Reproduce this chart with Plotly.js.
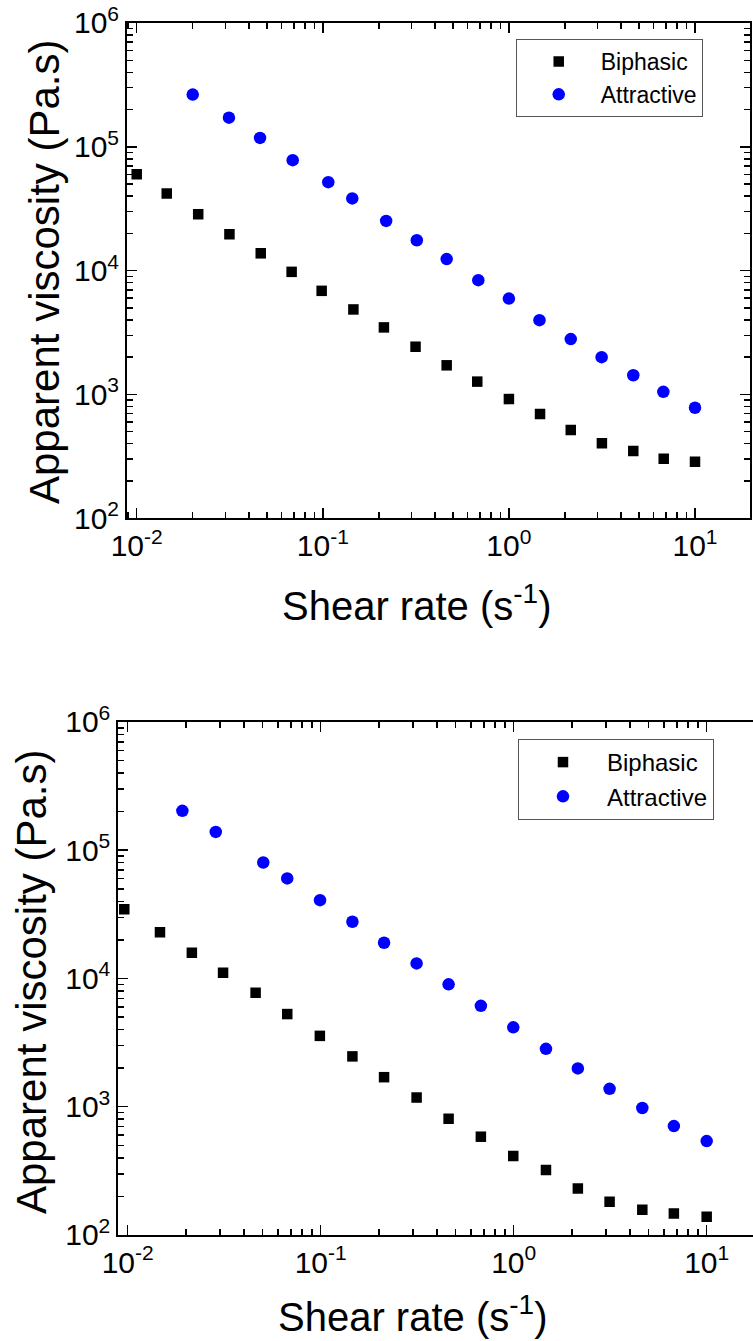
<!DOCTYPE html>
<html>
<head>
<meta charset="utf-8">
<script src="https://cdn.plot.ly/plotly-3.0.1.min.js"></script>
<style>
  html, body { margin: 0; padding: 0; background: #ffffff; }
  #chart { width: 753px; height: 1341px; }
</style>
</head>
<body>
<div id="chart"></div>
<script>
// ---- Data (shear rate in 1/s, viscosity in Pa.s) ----
// Top panel
const shearBiphasicTop = [0.0100, 0.0145, 0.0214, 0.0315, 0.0464, 0.0680, 0.0986, 0.146, 0.213, 0.315, 0.463, 0.676, 1.00, 1.47, 2.15, 3.16, 4.66, 6.79, 10.0];
const viscBiphasicTop  = [60000, 42000, 28600, 19700, 13800, 9780, 6870, 4860, 3480, 2430, 1720, 1270, 918, 695, 516, 403, 349, 303, 286];
const shearAttractiveTop = [0.0200, 0.0313, 0.0460, 0.0689, 0.107, 0.144, 0.219, 0.320, 0.463, 0.685, 1.00, 1.46, 2.15, 3.15, 4.66, 6.76, 10.0];
const viscAttractiveTop  = [264000, 172000, 118000, 78000, 51800, 38300, 25200, 17600, 12400, 8380, 5950, 3980, 2800, 2000, 1430, 1050, 781];
// Bottom panel
const shearBiphasicBottom = [0.0096, 0.0147, 0.0215, 0.0312, 0.0460, 0.0671, 0.0990, 0.146, 0.213, 0.314, 0.460, 0.676, 0.995, 1.47, 2.15, 3.14, 4.64, 6.76, 10.0];
const viscBiphasicBottom  = [34600, 22900, 15850, 11100, 7740, 5280, 3570, 2470, 1700, 1180, 806, 584, 413, 321, 230, 182, 157, 147, 139];
const shearAttractiveBottom = [0.0192, 0.0286, 0.0504, 0.0671, 0.0992, 0.146, 0.213, 0.314, 0.460, 0.676, 0.995, 1.47, 2.15, 3.14, 4.64, 6.76, 10.0];
const viscAttractiveBottom  = [203000, 139000, 80300, 60300, 40800, 27700, 19000, 13100, 9000, 6120, 4160, 2830, 1990, 1380, 977, 707, 540];

// Series names and tick labels
const seriesNames = ['Biphasic', 'Attractive'];
const xTickVals = [0.01, 0.1, 1, 10];
const xTickText = ['10<sup>-2</sup>', '10<sup>-1</sup>', '10<sup>0</sup>', '10<sup>1</sup>'];
const yTickVals = [1e2, 1e3, 1e4, 1e5, 1e6];
const yTickText = ['10<sup>2</sup>', '10<sup>3</sup>', '10<sup>4</sup>', '10<sup>5</sup>', '10<sup>6</sup>'];
const xTitle = 'Shear rate (s<sup>-1</sup>)';
const yTitle = 'Apparent viscosity (Pa.s)';

// minor tick positions (2..9 within each decade)
function minorTicks(lo, hi) {
  const out = [];
  for (let e = lo; e <= hi; e++) {
    for (let m = 2; m <= 9; m++) out.push(m * Math.pow(10, e));
  }
  return out;
}

const FONT = 'Liberation Sans, Arial, Helvetica, sans-serif';

function xAxis(domain, range, anchor) {
  return {
    type: 'log', domain: domain, range: range, anchor: anchor,
    showline: true, linecolor: '#000', linewidth: 2, mirror: 'ticks',
    ticks: 'inside', ticklen: 10, tickwidth: 1.5, tickcolor: '#000',
    tickmode: 'array', tickvals: xTickVals, ticktext: xTickText,
    minor: { tickmode: 'array', tickvals: minorTicks(-3, 1), ticks: 'inside', ticklen: 6, tickwidth: 1.5, tickcolor: '#000', showgrid: false },
    showgrid: false, zeroline: false,
    tickfont: { family: FONT, size: 30, color: '#000' }
  };
}
function yAxis(domain, anchor, mirror) {
  return {
    type: 'log', domain: domain, range: [2, 6], anchor: anchor,
    showline: true, linecolor: '#000', linewidth: 2, mirror: mirror,
    ticks: 'inside', ticklen: 10, tickwidth: 1.5, tickcolor: '#000',
    tickmode: 'array', tickvals: yTickVals, ticktext: yTickText,
    minor: { tickmode: 'array', tickvals: minorTicks(2, 5), ticks: 'inside', ticklen: 6, tickwidth: 1.5, tickcolor: '#000', showgrid: false },
    showgrid: false, zeroline: false,
    tickfont: { family: FONT, size: 30, color: '#000' }
  };
}

const traces = [
  { x: shearBiphasicTop, y: viscBiphasicTop, name: seriesNames[0], type: 'scatter', mode: 'markers',
    xaxis: 'x', yaxis: 'y', legend: 'legend',
    marker: { symbol: 'square', size: 10.5, color: '#000000' } },
  { x: shearAttractiveTop, y: viscAttractiveTop, name: seriesNames[1], type: 'scatter', mode: 'markers',
    xaxis: 'x', yaxis: 'y', legend: 'legend',
    marker: { symbol: 'circle', size: 12.5, color: '#0000ff' } },
  { x: shearBiphasicBottom, y: viscBiphasicBottom, name: seriesNames[0], type: 'scatter', mode: 'markers',
    xaxis: 'x2', yaxis: 'y2', legend: 'legend2',
    marker: { symbol: 'square', size: 10.5, color: '#000000' } },
  { x: shearAttractiveBottom, y: viscAttractiveBottom, name: seriesNames[1], type: 'scatter', mode: 'markers',
    xaxis: 'x2', yaxis: 'y2', legend: 'legend2',
    marker: { symbol: 'circle', size: 12.5, color: '#0000ff' } }
];

const layout = {
  width: 753, height: 1341,
  margin: { l: 0, r: 0, t: 0, b: 0 },
  paper_bgcolor: '#ffffff', plot_bgcolor: '#ffffff',
  font: { family: FONT, color: '#000' },
  showlegend: true,
  xaxis: xAxis([0.1687, 0.9960], [-2.052, 1.2955], 'y'),
  yaxis: yAxis([0.6135, 0.98285], 'x', 'ticks'),
  xaxis2: xAxis([0.1571, 1.0], [-2.0487, 1.24], 'y2'),
  yaxis2: yAxis([0.07905, 0.4616], 'x2', false),
  legend: {
    x: 0.6849, y: 0.97092, xanchor: 'left', yanchor: 'top',
    bgcolor: '#ffffff', bordercolor: '#555555', borderwidth: 1,
    font: { family: FONT, size: 23, color: '#000' }, itemwidth: 74
  },
  legend2: {
    x: 0.6879, y: 0.44892, xanchor: 'left', yanchor: 'top',
    bgcolor: '#ffffff', bordercolor: '#555555', borderwidth: 1,
    font: { family: FONT, size: 24, color: '#000' }, itemwidth: 78
  },
  annotations: [
    { text: xTitle, xref: 'paper', yref: 'paper', x: 416.5 / 753, y: 1 - 603 / 1341,
      xanchor: 'center', yanchor: 'middle', showarrow: false,
      font: { family: FONT, size: 40, color: '#000' } },
    { text: xTitle, xref: 'paper', yref: 'paper', x: 413 / 753, y: 0,
      xanchor: 'center', yanchor: 'bottom', showarrow: false,
      font: { family: FONT, size: 40, color: '#000' } },
    { text: yTitle, xref: 'paper', yref: 'paper', x: 44 / 753, y: 1 - 272 / 1341,
      xanchor: 'center', yanchor: 'middle', textangle: -90, showarrow: false,
      font: { family: FONT, size: 42, color: '#000' } },
    { text: yTitle, xref: 'paper', yref: 'paper', x: 31 / 753, y: 1 - 982 / 1341,
      xanchor: 'center', yanchor: 'middle', textangle: -90, showarrow: false,
      font: { family: FONT, size: 42, color: '#000' } }
  ]
};

Plotly.newPlot('chart', traces, layout, { staticPlot: true, displayModeBar: false });
</script>
</body>
</html>
